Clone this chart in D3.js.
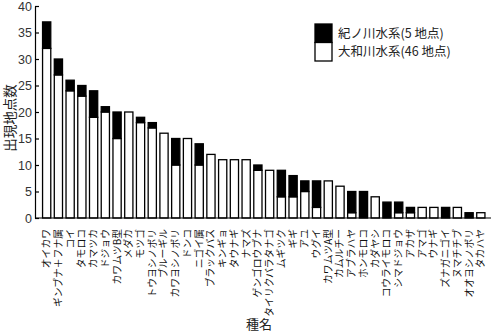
<!DOCTYPE html>
<html><head><meta charset="utf-8">
<script src="https://cdn.jsdelivr.net/npm/d3@7"></script>
<style>body{margin:0;background:#fff}svg{display:block}</style>
</head><body>
<svg id="c" width="500" height="334"></svg>
<script>
const species = ["オイカワ","ギンブナ＋フナ属","コイ","タモロコ","カマツカ","ドジョウ","カワムツB型","メダカ","モツゴ","トウヨシノボリ","ブルーギル","カワヨシノボリ","ドンコ","ニゴイ属","ブラックバス","キンギョ","タウナギ","ナマズ","ゲンゴロウブナ","タイリクバラタナゴ","ムギツク","ギギ","アユ","ウグイ","カワムツA型","カムルチー","アブラハヤ","ホンモロコ","カダヤシ","コウライモロコ","シマドジョウ","アカザ","アマゴ","ウナギ","ズナガニゴイ","ヌマチチブ","オオヨシノボリ","タカハヤ"];
// 大和川水系 (46地点)
const yamato = [32,27,24,23,19,20,15,20,18,17,16,10,15,10,12,11,11,11,9,9,4,4,5,2,7,6,1,0,4,0,1,1,2,2,0,2,0,1];
// 紀ノ川水系 (5地点)
const kino = [5,3,2,2,5,1,5,0,1,1,0,5,0,4,0,0,0,0,1,0,5,4,2,5,0,0,4,5,0,3,2,1,0,0,2,0,1,0];
const yTicks = [0,5,10,15,20,25,30,35,40];
const seriesNames = ["紀ノ川水系(5 地点)","大和川水系(46 地点)"];

const svg = d3.select("#c");
const x = d3.scaleBand().domain(species).range([40.8, 486.7]).paddingInner(0.3).paddingOuter(0.15);
const y = d3.scaleLinear().domain([0,40]).range([218, 6]);

const g = svg.append("g");
species.forEach((s,i)=>{
  const w = yamato[i], k = kino[i];
  if (w > 0) g.append("rect").attr("x", x(s)).attr("width", x.bandwidth())
     .attr("y", y(w)).attr("height", y(0)-y(w))
     .attr("fill","#fff").attr("stroke","#000").attr("stroke-width",1.3);
  if (k > 0) g.append("rect").attr("x", x(s)).attr("width", x.bandwidth())
     .attr("y", y(w+k)).attr("height", y(w)-y(w+k))
     .attr("fill","#000").attr("stroke","#000").attr("stroke-width",1.3);
});

const ya = svg.append("g").attr("transform","translate(35,0)")
  .call(d3.axisLeft(y).tickValues(yTicks).tickSizeInner(-4).tickSizeOuter(0).tickPadding(3));
ya.select(".domain").attr("stroke","#000").attr("stroke-width",1.2);
ya.selectAll(".tick line").attr("stroke","#000").attr("stroke-width",1.2);
ya.selectAll("text").attr("font-family","Liberation Sans, Arial, sans-serif").attr("font-size",12.5).attr("fill","#333");

const xa = svg.append("g").attr("transform","translate(0,218)")
  .call(d3.axisBottom(x).tickSize(0).tickSizeOuter(0).tickPadding(0));
xa.select(".domain").attr("d","M35,0H491").attr("stroke","#000").attr("stroke-width",1.2);
xa.selectAll(".tick text")
  .attr("font-family","Noto Sans CJK JP, sans-serif").attr("font-size",9.8).attr("fill","#111")
  .attr("text-anchor","end").attr("transform","rotate(-90)")
  .attr("x",-11).attr("y",0).attr("dy","0.35em");

svg.append("text").attr("transform","translate(10,118) rotate(-90)")
  .attr("text-anchor","middle").attr("dy","0.35em")
  .attr("font-family","Noto Sans CJK JP, sans-serif").attr("font-size",13.5).attr("fill","#222")
  .text("出現地点数");
svg.append("text").attr("x",259).attr("y",329).attr("text-anchor","middle")
  .attr("font-family","Noto Sans CJK JP, sans-serif").attr("font-size",13).attr("fill","#222")
  .text("種名");

const lg = svg.append("g").attr("transform","translate(315,24)");
const fills = ["#000","#fff"];
seriesNames.forEach((n,i)=>{
  lg.append("rect").attr("x",0).attr("y",i*18.5).attr("width",17).attr("height",18.5)
    .attr("fill",fills[i]).attr("stroke","#000").attr("stroke-width",1.3);
  lg.append("text").attr("x",23).attr("y",i*18.5+9.5).attr("dy","0.35em")
    .attr("font-family","Noto Sans CJK JP, sans-serif").attr("font-size",12.5).attr("fill","#222")
    .text(n);
});
</script>
</body></html>
